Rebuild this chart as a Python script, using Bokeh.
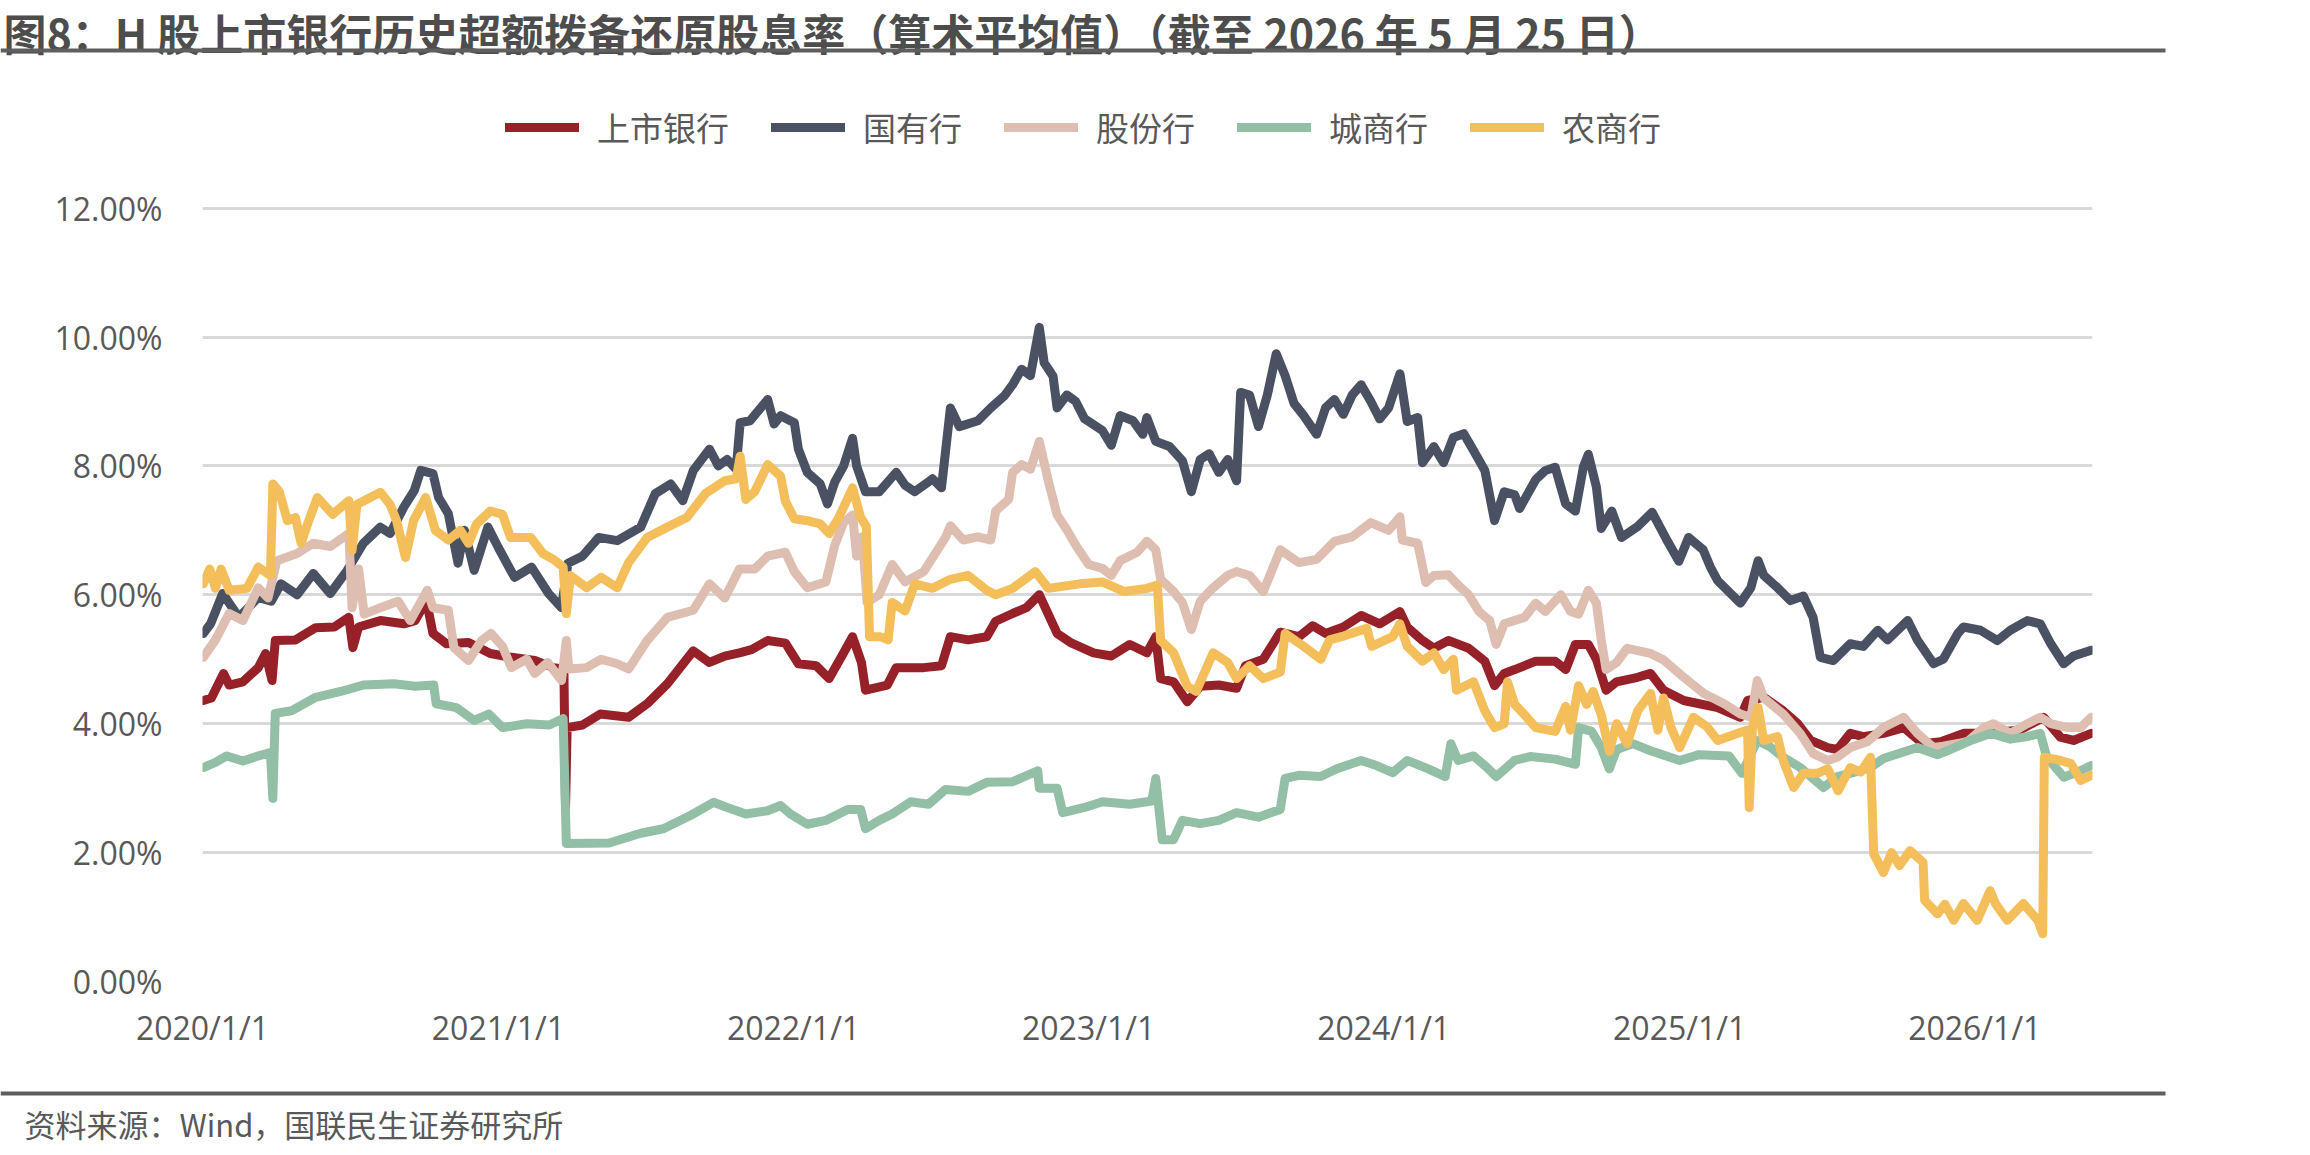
import pandas as pd
from bokeh.plotting import figure
from bokeh.layouts import column
from bokeh.core.properties import value
from bokeh.models import (ColumnDataSource, Range1d, FixedTicker, PrintfTickFormatter,
                          CustomJSTickFormatter, Legend, LegendItem)
from bokeh.embed import file_html
from bokeh.resources import INLINE

title_text = "图8：H 股上市银行历史超额拨备还原股息率（算术平均值）（截至 2026 年 5 月 25 日）"
source_text = "资料来源：Wind，国联民生证券研究所"
series_names = ["上市银行", "国有行", "股份行", "城商行", "农商行"]
series_colors = ["#962129", "#4A5163", "#DFBEB2", "#92BFA6", "#F4BE5A"]
x_tick_dates = ["2020-01-01", "2021-01-01", "2022-01-01", "2023-01-01",
                "2024-01-01", "2025-01-01", "2026-01-01"]
y_ticks = [0, 2, 4, 6, 8, 10, 12]

listed = [
("2020-01-02",4.36),("2020-01-12",4.40),("2020-01-27",4.78),("2020-02-03",4.60),("2020-02-20",4.65),
("2020-03-10",4.87),("2020-03-19",5.09),("2020-03-27",4.67),("2020-03-31",5.29),("2020-04-25",5.30),
("2020-05-20",5.49),("2020-06-12",5.50),("2020-06-30",5.65),("2020-07-05",5.18),("2020-07-12",5.50),
("2020-08-08",5.60),("2020-09-06",5.55),("2020-09-20",5.60),("2020-10-04",5.91),("2020-10-12",5.40),
("2020-10-29",5.24),("2020-11-25",5.26),("2020-12-22",5.09),("2021-01-17",5.03),("2021-02-15",4.98),
("2021-03-10",4.87),("2021-03-23",4.85),("2021-03-25",2.70),("2021-03-27",3.94),("2021-04-15",3.98),
("2021-05-07",4.15),("2021-06-11",4.10),("2021-07-04",4.31),("2021-07-29",4.62),("2021-08-30",5.13),
("2021-09-19",4.95),("2021-10-08",5.05),("2021-10-26",5.10),("2021-11-10",5.15),("2021-11-30",5.29),
("2021-12-22",5.25),("2022-01-07",4.93),("2022-01-29",4.90),("2022-02-14",4.70),("2022-03-04",5.10),
("2022-03-15",5.35),("2022-03-26",4.95),("2022-03-31",4.52),("2022-04-27",4.60),("2022-05-08",4.87),
("2022-06-11",4.87),("2022-07-03",4.90),("2022-07-14",5.35),("2022-08-05",5.30),("2022-08-28",5.35),
("2022-09-08",5.59),("2022-09-29",5.71),("2022-10-16",5.80),("2022-11-01",6.00),("2022-11-12",5.70),
("2022-11-23",5.40),("2022-12-11",5.25),("2023-01-07",5.10),("2023-01-29",5.05),("2023-02-21",5.23),
("2023-03-14",5.10),("2023-03-25",5.35),("2023-03-31",4.70),("2023-04-16",4.65),("2023-05-03",4.34),
("2023-05-19",4.58),("2023-06-11",4.60),("2023-07-03",4.55),("2023-07-14",4.90),("2023-08-05",5.00),
("2023-08-26",5.42),("2023-09-18",5.35),("2023-10-05",5.52),("2023-10-21",5.40),("2023-11-12",5.50),
("2023-12-04",5.68),("2023-12-27",5.55),("2024-01-21",5.74),("2024-01-30",5.50),("2024-02-18",5.29),
("2024-03-03",5.17),("2024-03-21",5.29),("2024-04-15",5.17),("2024-05-05",4.97),("2024-05-17",4.59),
("2024-05-29",4.78),("2024-06-11",4.84),("2024-07-07",4.97),("2024-07-31",4.97),("2024-08-13",4.84),
("2024-08-25",5.23),("2024-09-10",5.23),("2024-09-20",5.00),("2024-10-02",4.52),("2024-10-15",4.65),
("2024-11-10",4.72),("2024-11-26",4.78),("2024-12-12",4.52),("2025-01-06",4.36),("2025-02-17",4.25),
("2025-03-17",4.10),("2025-03-26",4.36),("2025-04-15",4.41),("2025-05-09",4.20),("2025-05-27",4.00),
("2025-06-12",3.74),("2025-07-03",3.63),("2025-07-15",3.60),("2025-07-31",3.85),("2025-08-16",3.80),
("2025-09-10",3.85),("2025-10-05",3.94),("2025-10-29",3.69),("2025-11-20",3.72),("2025-12-18",3.85),
("2026-01-12",3.85),("2026-02-05",3.88),("2026-02-26",3.90),("2026-03-27",4.10),("2026-04-17",3.79),
("2026-05-03",3.74),("2026-05-25",3.85)]

state_owned = [
("2020-01-02",5.40),("2020-01-11",5.55),("2020-01-26",6.02),("2020-02-15",5.65),("2020-03-10",5.96),
("2020-03-26",5.90),("2020-04-07",6.17),("2020-04-27",6.00),("2020-05-17",6.33),("2020-06-07",6.02),
("2020-06-28",6.38),("2020-07-18",6.80),("2020-08-08",7.05),("2020-08-20",6.95),("2020-09-06",7.36),
("2020-09-19",7.62),("2020-09-27",7.93),("2020-10-12",7.88),("2020-10-19",7.51),("2020-10-31",7.26),
("2020-11-12",6.49),("2020-11-20",7.00),("2020-12-02",6.38),("2020-12-19",7.05),("2021-01-01",6.73),
("2021-01-21",6.27),("2021-02-11",6.43),("2021-03-04",6.02),("2021-03-20",5.80),("2021-03-28",6.49),
("2021-04-15",6.60),("2021-05-05",6.89),("2021-05-28",6.84),("2021-06-26",7.05),("2021-07-14",7.57),
("2021-08-02",7.72),("2021-08-17",7.46),("2021-08-30",7.93),("2021-09-19",8.26),("2021-09-30",8.00),
("2021-10-11",8.10),("2021-10-22",7.95),("2021-10-27",8.67),("2021-11-08",8.70),("2021-11-30",9.03),
("2021-12-08",8.65),("2021-12-16",8.78),("2022-01-02",8.67),("2022-01-07",8.26),("2022-01-18",7.90),
("2022-02-03",7.72),("2022-02-12",7.41),("2022-02-21",7.75),("2022-03-04",8.00),("2022-03-15",8.43),
("2022-03-20",8.00),("2022-03-31",7.60),("2022-04-17",7.60),("2022-05-08",7.90),("2022-05-19",7.70),
("2022-05-31",7.60),("2022-06-22",7.80),("2022-07-03",7.66),("2022-07-14",8.90),("2022-07-25",8.61),
("2022-08-17",8.70),("2022-09-02",8.90),("2022-09-19",9.09),("2022-09-29",9.26),("2022-10-10",9.50),
("2022-10-21",9.40),("2022-11-01",10.15),("2022-11-07",9.60),("2022-11-18",9.39),("2022-11-23",8.90),
("2022-12-05",9.10),("2022-12-16",9.00),("2022-12-27",8.73),("2023-01-18",8.55),("2023-01-29",8.32),
("2023-02-09",8.78),("2023-02-25",8.70),("2023-03-09",8.49),("2023-03-14",8.75),("2023-03-25",8.38),
("2023-04-11",8.30),("2023-04-27",8.08),("2023-05-08",7.60),("2023-05-19",8.10),("2023-05-30",8.19),
("2023-06-11",7.90),("2023-06-22",8.10),("2023-07-03",7.77),("2023-07-08",9.14),("2023-07-19",9.10),
("2023-07-30",8.61),("2023-08-10",9.10),("2023-08-21",9.74),("2023-09-01",9.40),("2023-09-12",8.97),
("2023-09-24",8.78),("2023-10-10",8.49),("2023-10-21",8.90),("2023-11-01",9.03),("2023-11-12",8.80),
("2023-11-23",9.10),("2023-12-04",9.26),("2023-12-16",9.00),("2023-12-27",8.73),("2024-01-07",8.90),
("2024-01-21",9.43),("2024-01-30",8.69),("2024-02-12",8.75),("2024-02-18",8.05),("2024-03-03",8.30),
("2024-03-15",8.05),("2024-03-27",8.44),("2024-04-09",8.50),("2024-04-21",8.24),("2024-05-05",7.93),
("2024-05-17",7.15),("2024-05-29",7.60),("2024-06-11",7.55),("2024-06-17",7.34),("2024-07-07",7.79),
("2024-07-19",7.93),("2024-07-31",7.98),("2024-08-13",7.41),("2024-08-25",7.30),("2024-09-04",7.99),
("2024-09-10",8.18),("2024-09-20",7.67),("2024-09-26",7.03),("2024-10-09",7.30),("2024-10-21",6.89),
("2024-11-10",7.06),("2024-11-28",7.28),("2024-12-17",6.83),("2024-12-31",6.52),("2025-01-12",6.89),
("2025-01-30",6.70),("2025-02-08",6.43),("2025-02-17",6.22),("2025-03-17",5.87),("2025-03-30",6.11),
("2025-04-08",6.53),("2025-04-15",6.30),("2025-05-02",6.11),("2025-05-18",5.91),("2025-06-03",5.98),
("2025-06-15",5.65),("2025-06-24",5.03),("2025-07-10",4.98),("2025-07-31",5.24),("2025-08-16",5.20),
("2025-09-03",5.45),("2025-09-15",5.30),("2025-10-10",5.60),("2025-10-22",5.30),("2025-11-11",4.93),
("2025-11-23",5.00),("2025-12-11",5.40),("2025-12-18",5.50),("2026-01-08",5.45),("2026-01-29",5.29),
("2026-02-14",5.45),("2026-03-07",5.60),("2026-03-23",5.55),("2026-04-05",5.24),("2026-04-21",4.93),
("2026-05-03",5.05),("2026-05-25",5.14)]

joint_stock = [
("2020-01-02",5.03),("2020-01-17",5.30),("2020-02-03",5.71),("2020-02-20",5.60),("2020-03-10",6.11),
("2020-03-22",5.95),("2020-04-02",6.53),("2020-04-27",6.64),("2020-05-17",6.80),("2020-06-07",6.75),
("2020-06-30",6.95),("2020-07-04",5.80),("2020-07-12",6.40),("2020-07-19",5.70),("2020-08-08",5.80),
("2020-08-30",5.90),("2020-09-14",5.60),("2020-10-05",6.07),("2020-10-12",5.80),("2020-10-31",5.76),
("2020-11-07",5.18),("2020-11-25",4.98),("2020-12-11",5.29),("2020-12-23",5.40),("2021-01-06",5.20),
("2021-01-17",4.87),("2021-02-05",5.00),("2021-02-15",4.78),("2021-03-03",4.95),("2021-03-20",4.67),
("2021-03-26",5.29),("2021-03-29",4.85),("2021-04-20",4.87),("2021-05-08",5.00),("2021-05-28",4.93),
("2021-06-11",4.85),("2021-07-04",5.29),("2021-07-29",5.65),("2021-08-30",5.76),("2021-09-19",6.17),
("2021-10-08",5.95),("2021-10-26",6.40),("2021-11-14",6.40),("2021-11-30",6.60),("2021-12-22",6.66),
("2022-01-02",6.36),("2022-01-18",6.11),("2022-02-10",6.20),("2022-02-21",6.77),("2022-03-04",7.12),
("2022-03-15",7.24),("2022-03-20",6.60),("2022-03-27",6.90),("2022-04-02",5.88),("2022-04-17",6.00),
("2022-05-03",6.47),("2022-05-19",6.20),("2022-06-11",6.36),("2022-07-08",6.89),("2022-07-14",7.07),
("2022-07-30",6.85),("2022-08-17",6.90),("2022-09-02",6.85),("2022-09-08",7.30),("2022-09-24",7.48),
("2022-09-29",7.90),("2022-10-10",8.02),("2022-10-21",7.95),("2022-11-01",8.38),("2022-11-12",7.77),
("2022-11-23",7.24),("2022-12-05",7.01),("2022-12-16",6.77),("2023-01-01",6.47),("2023-01-18",6.41),
("2023-01-29",6.30),("2023-02-09",6.53),("2023-03-02",6.66),("2023-03-14",6.83),("2023-03-25",6.70),
("2023-03-31",6.24),("2023-04-16",6.05),("2023-04-27",5.88),("2023-05-08",5.46),("2023-05-19",5.90),
("2023-06-04",6.11),("2023-06-22",6.30),("2023-07-03",6.36),("2023-07-19",6.30),("2023-08-05",6.05),
("2023-08-26",6.70),("2023-09-18",6.50),("2023-10-10",6.55),("2023-11-01",6.83),("2023-11-23",6.90),
("2023-12-16",7.12),("2024-01-07",7.00),("2024-01-21",7.21),("2024-01-24",6.85),("2024-02-12",6.80),
("2024-02-22",6.19),("2024-03-03",6.30),("2024-03-21",6.31),("2024-04-02",6.15),("2024-04-15",6.00),
("2024-04-28",5.74),("2024-05-11",5.60),("2024-05-19",5.23),("2024-05-29",5.55),("2024-06-23",5.65),
("2024-07-07",5.87),("2024-07-19",5.74),("2024-08-07",6.00),("2024-08-19",5.74),("2024-08-29",5.70),
("2024-09-10",6.07),("2024-09-20",5.87),("2024-09-26",5.30),("2024-10-02",4.84),("2024-10-15",4.95),
("2024-10-28",5.17),("2024-11-26",5.09),("2024-12-12",4.99),("2025-01-06",4.72),("2025-01-31",4.47),
("2025-02-25",4.31),("2025-03-17",4.15),("2025-03-30",4.10),("2025-04-07",4.67),("2025-04-15",4.40),
("2025-05-09",4.15),("2025-05-30",3.85),("2025-06-15",3.54),("2025-07-03",3.43),("2025-07-15",3.48),
("2025-07-31",3.63),("2025-08-21",3.72),("2025-09-10",3.94),("2025-10-05",4.10),("2025-10-22",3.85),
("2025-11-11",3.63),("2025-11-23",3.65),("2025-12-23",3.72),("2026-01-12",3.94),("2026-01-24",4.00),
("2026-02-14",3.85),("2026-03-07",4.00),("2026-03-23",4.10),("2026-04-05",4.00),("2026-04-26",3.94),
("2026-05-12",3.94),("2026-05-25",4.10)]

city_comm = [
("2020-01-02",3.32),("2020-01-17",3.40),("2020-01-31",3.50),("2020-02-20",3.42),("2020-03-10",3.50),
("2020-03-25",3.55),("2020-03-28",2.84),("2020-03-31",4.16),("2020-04-20",4.20),("2020-05-20",4.41),
("2020-06-20",4.50),("2020-07-18",4.60),("2020-08-25",4.62),("2020-09-20",4.58),("2020-10-13",4.60),
("2020-10-16",4.31),("2020-11-10",4.25),("2020-12-02",4.05),("2020-12-20",4.15),("2021-01-06",3.94),
("2021-02-05",4.00),("2021-03-05",3.98),("2021-03-22",4.08),("2021-03-26",2.14),("2021-05-18",2.15),
("2021-06-26",2.30),("2021-07-24",2.37),("2021-08-27",2.58),("2021-09-24",2.78),("2021-10-11",2.70),
("2021-11-03",2.60),("2021-11-30",2.65),("2021-12-16",2.73),("2021-12-28",2.60),("2022-01-18",2.44),
("2022-02-10",2.50),("2022-03-09",2.67),("2022-03-25",2.67),("2022-03-31",2.37),("2022-04-17",2.50),
("2022-05-03",2.60),("2022-05-26",2.79),("2022-06-17",2.75),("2022-07-08",2.98),("2022-08-05",2.95),
("2022-08-28",3.09),("2022-09-29",3.10),("2022-10-30",3.27),("2022-11-01",3.00),("2022-11-23",3.00),
("2022-11-30",2.62),("2022-12-27",2.70),("2023-01-18",2.79),("2023-02-21",2.75),("2023-03-20",2.80),
("2023-03-25",3.15),("2023-04-02",2.20),("2023-04-16",2.20),("2023-04-27",2.50),("2023-05-19",2.45),
("2023-06-11",2.50),("2023-07-03",2.62),("2023-07-30",2.55),("2023-08-26",2.67),("2023-09-01",3.15),
("2023-09-18",3.20),("2023-10-15",3.18),("2023-11-04",3.30),("2023-12-04",3.43),("2023-12-23",3.35),
("2024-01-12",3.24),("2024-01-30",3.43),("2024-02-25",3.30),("2024-03-17",3.18),("2024-03-24",3.69),
("2024-04-02",3.43),("2024-04-21",3.50),("2024-05-05",3.35),("2024-05-19",3.18),("2024-06-11",3.43),
("2024-06-30",3.49),("2024-07-31",3.45),("2024-08-25",3.37),("2024-08-29",3.94),("2024-09-14",3.88),
("2024-09-26",3.63),("2024-10-06",3.30),("2024-10-15",3.60),("2024-11-04",3.69),("2024-11-26",3.58),
("2025-01-01",3.43),("2025-01-25",3.52),("2025-03-03",3.50),("2025-03-19",3.23),("2025-04-07",3.74),
("2025-04-23",3.64),("2025-05-09",3.48),("2025-05-30",3.32),("2025-06-28",3.01),("2025-07-15",3.18),
("2025-07-31",3.23),("2025-08-25",3.32),("2025-09-10",3.46),("2025-10-22",3.63),("2025-11-16",3.52),
("2025-12-02",3.60),("2025-12-27",3.74),("2026-01-21",3.85),("2026-02-14",3.76),("2026-03-07",3.80),
("2026-03-23",3.85),("2026-03-31",3.48),("2026-04-21",3.17),("2026-05-08",3.25),("2026-05-25",3.35)]

rural_comm = [
("2020-01-02",6.17),("2020-01-10",6.40),("2020-01-17",6.10),("2020-01-24",6.40),("2020-02-03",6.07),
("2020-02-25",6.10),("2020-03-10",6.43),("2020-03-25",6.30),("2020-03-28",7.72),("2020-04-05",7.60),
("2020-04-15",7.15),("2020-04-25",7.20),("2020-05-02",6.80),("2020-05-10",7.10),("2020-05-22",7.51),
("2020-06-10",7.25),("2020-06-30",7.46),("2020-07-04",6.69),("2020-07-10",7.40),("2020-08-08",7.59),
("2020-08-20",7.40),("2020-08-28",7.15),("2020-09-08",6.58),("2020-09-18",7.15),("2020-10-03",7.51),
("2020-10-15",7.00),("2020-10-31",6.85),("2020-11-15",7.00),("2020-11-25",6.80),("2020-12-05",7.10),
("2020-12-22",7.30),("2021-01-06",7.25),("2021-01-16",6.89),("2021-02-10",6.89),("2021-02-25",6.64),
("2021-03-10",6.55),("2021-03-22",6.43),("2021-03-26",5.71),("2021-03-31",6.30),("2021-04-20",6.11),
("2021-05-08",6.27),("2021-05-28",6.11),("2021-06-11",6.50),("2021-07-04",6.89),("2021-07-29",7.05),
("2021-08-22",7.20),("2021-09-14",7.57),("2021-10-08",7.77),("2021-10-22",7.80),("2021-10-27",8.15),
("2021-11-03",7.48),("2021-11-14",7.60),("2021-11-30",8.02),("2021-12-16",7.84),("2021-12-22",7.45),
("2022-01-02",7.18),("2022-01-18",7.15),("2022-02-03",7.10),("2022-02-14",6.95),("2022-02-26",7.20),
("2022-03-15",7.66),("2022-03-25",7.20),("2022-04-01",7.06),("2022-04-05",5.35),("2022-04-18",5.35),
("2022-04-28",5.30),("2022-05-03",5.88),("2022-05-19",5.75),("2022-05-31",6.17),("2022-06-22",6.10),
("2022-07-14",6.24),("2022-08-05",6.30),("2022-08-28",6.07),("2022-09-08",6.00),("2022-09-29",6.10),
("2022-10-27",6.36),("2022-11-12",6.10),("2022-12-21",6.17),("2023-01-18",6.20),("2023-02-14",6.05),
("2023-03-14",6.10),("2023-03-27",6.15),("2023-03-31",5.29),("2023-04-16",5.10),("2023-05-03",4.58),
("2023-05-14",4.50),("2023-06-04",5.10),("2023-06-22",4.95),("2023-07-03",4.70),("2023-07-19",4.90),
("2023-08-05",4.70),("2023-08-26",4.80),("2023-09-01",5.40),("2023-09-24",5.20),("2023-10-15",5.00),
("2023-10-26",5.30),("2023-11-10",5.35),("2023-12-11",5.48),("2023-12-17",5.20),("2024-01-12",5.35),
("2024-01-21",5.55),("2024-01-30",5.20),("2024-02-18",4.97),("2024-03-03",5.10),("2024-03-15",4.84),
("2024-03-27",5.00),("2024-03-31",4.52),("2024-04-21",4.65),("2024-05-05",4.20),("2024-05-17",3.94),
("2024-05-29",4.00),("2024-06-02",4.65),("2024-06-11",4.30),("2024-06-23",4.14),("2024-07-07",3.94),
("2024-07-31",3.88),("2024-08-13",4.27),("2024-08-19",3.90),("2024-08-29",4.59),("2024-09-08",4.30),
("2024-09-16",4.50),("2024-09-26",4.14),("2024-10-06",3.57),("2024-10-15",4.00),("2024-10-28",3.69),
("2024-11-10",4.20),("2024-11-26",4.47),("2024-12-05",3.90),("2024-12-12",4.40),("2024-12-21",3.95),
("2025-01-01",3.63),("2025-01-18",4.10),("2025-02-04",3.95),("2025-02-17",3.74),("2025-03-14",3.85),
("2025-03-26",3.90),("2025-03-28",2.70),("2025-04-01",3.95),("2025-04-08",4.25),("2025-04-15",3.74),
("2025-05-02",3.80),("2025-05-09",3.43),("2025-05-22",3.01),("2025-06-03",3.23),("2025-06-20",3.23),
("2025-07-03",3.30),("2025-07-16",2.96),("2025-07-31",3.32),("2025-08-13",3.25),("2025-08-25",3.48),
("2025-08-29",1.98),("2025-09-10",1.69),("2025-09-20",2.00),("2025-09-30",1.80),("2025-10-13",2.03),
("2025-10-29",1.85),("2025-10-31",1.26),("2025-11-16",1.05),("2025-11-25",1.20),("2025-12-06",0.95),
("2025-12-18",1.21),("2026-01-04",0.95),("2026-01-20",1.41),("2026-01-27",1.20),("2026-02-10",0.95),
("2026-03-02",1.21),("2026-03-20",0.95),("2026-03-26",0.74),("2026-03-28",3.48),("2026-04-17",3.43),
("2026-04-30",3.38),("2026-05-12",3.12),("2026-05-25",3.20)]

all_series = [listed, state_owned, joint_stock, city_comm, rural_comm]

TEXT = "#595959"
RULE = "#5F5F5F"
W = 2310
TOP_H, MAIN_H, BOT_H = 90, 970, 95
CJK = "Noto Sans CJK SC"


def strip_fig(height, y_top):
    f = figure(width=W, height=height, output_backend="svg", toolbar_location=None,
               x_range=Range1d(0, W), y_range=Range1d(y_top + height, y_top),
               x_axis_location=None, y_axis_location=None,
               min_border_left=0, min_border_right=0, min_border_top=0, min_border_bottom=0)
    f.frame_align = False
    f.outline_line_color = None
    f.grid.visible = False
    f.background_fill_color = "white"
    f.border_fill_color = "white"
    return f


# ---- title strip (canvas y 0..90)
top = strip_fig(TOP_H, 0)
top.text(x=[3], y=[31], text=[title_text], text_font=value(CJK), text_font_style="bold",
         text_font_size=value("43px"), text_color="#4D4D4D",
         text_baseline="middle", text_align="left")
top.quad(left=[0], right=[2165], top=[48], bottom=[52], fill_color=RULE, line_color=None)

# ---- main chart (canvas y 90..1060); frame from canvas y 90 to 981
frame_h = 981 - TOP_H
y_top_val = 12 + (207.6 - TOP_H) / 64.45
p = figure(width=W, height=MAIN_H, x_axis_type="datetime",
           output_backend="svg", toolbar_location=None,
           x_range=Range1d(pd.Timestamp("2020-01-01"), pd.Timestamp("2026-05-26 14:00")),
           y_range=Range1d(0, y_top_val),
           min_border_left=202, min_border_right=218, min_border_top=0,
           min_border_bottom=MAIN_H - frame_h)
p.frame_align = False
p.outline_line_color = None
p.background_fill_color = "white"
p.border_fill_color = "white"
p.xgrid.visible = False
p.ygrid.grid_line_color = "#D9D9D9"
p.ygrid.grid_line_width = 3

ticks_ms = [pd.Timestamp(d).value / 1e6 for d in x_tick_dates]
xa = p.xaxis[0]
xa.ticker = FixedTicker(ticks=ticks_ms)
xa.formatter = CustomJSTickFormatter(code="""
const d = new Date(tick);
return d.getUTCFullYear() + "/" + (d.getUTCMonth() + 1) + "/" + d.getUTCDate();
""")
ya = p.yaxis[0]
ya.ticker = FixedTicker(ticks=y_ticks)
ya.formatter = PrintfTickFormatter(format="%.2f%%")
for ax in (xa, ya):
    ax.axis_line_color = None
    ax.major_tick_line_color = None
    ax.minor_tick_line_color = None
    ax.major_label_text_font = "Open Sans"
    ax.major_label_text_font_size = "32px"
    ax.major_label_text_color = TEXT
xa.major_label_standoff = 18
ya.major_label_standoff = 34

items = []
for name, color, data in zip(series_names, series_colors, all_series):
    src = ColumnDataSource(dict(x=pd.to_datetime([d for d, _ in data]),
                                y=[v for _, v in data]))
    r = p.line("x", "y", source=src, line_color=color, line_width=9,
               line_join="round", line_cap="round")
    items.append(LegendItem(label=name, renderers=[r]))

legend = Legend(items=items, orientation="horizontal", location=(303, 981 - 151),
                glyph_width=74, glyph_height=40, label_height=40, label_standoff=18,
                spacing=42, padding=0, margin=0, border_line_color=None,
                background_fill_alpha=0, label_text_font=CJK,
                label_text_font_size="33px", label_text_color=TEXT)
p.add_layout(legend)

# ---- source strip (canvas y 1060..1155)
bot = strip_fig(BOT_H, TOP_H + MAIN_H)
bot.quad(left=[0], right=[2165], top=[1091], bottom=[1095], fill_color=RULE, line_color=None)
bot.text(x=[24], y=[1123], text=[source_text], text_font=value(CJK),
         text_font_size=value("31px"), text_color=TEXT,
         text_baseline="middle", text_align="left")

layout = column(top, p, bot, spacing=0)
open("out.html", "w").write(file_html(layout, INLINE))
